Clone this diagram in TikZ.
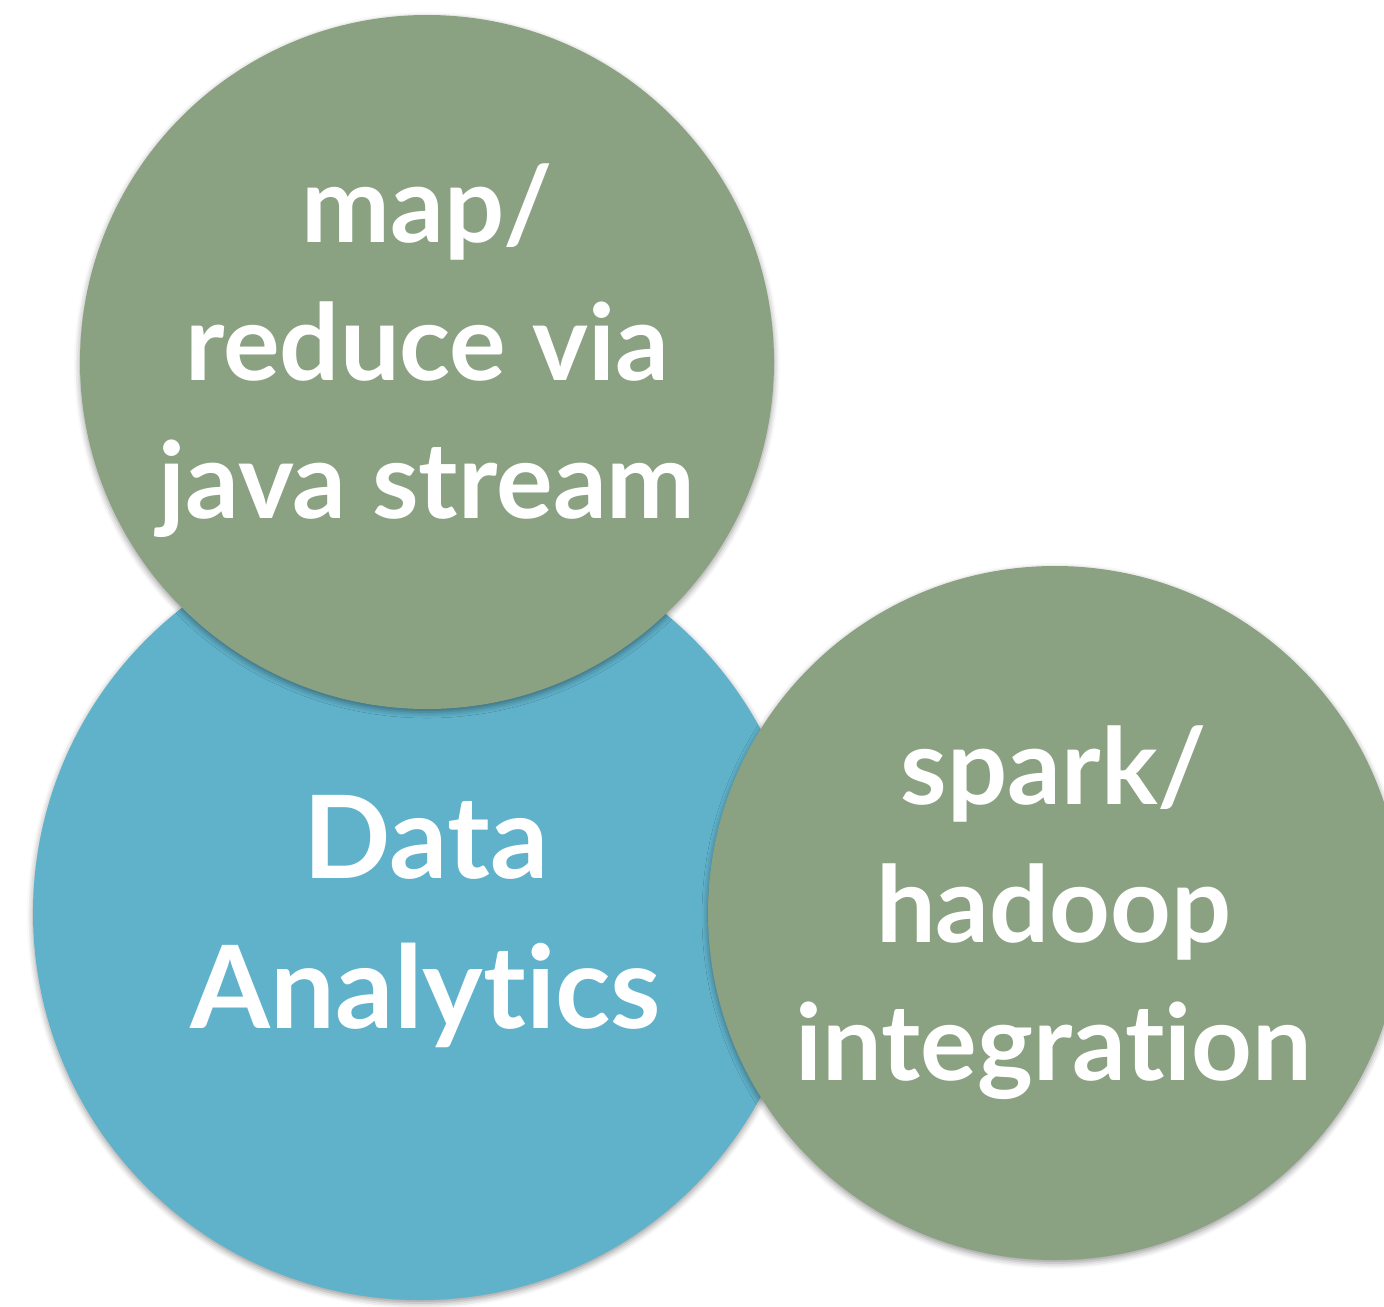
\documentclass[tikz,border=0pt]{standalone}
\usepackage{fontspec}
\setmainfont{Lato}[Ligatures={NoCommon,NoRare,NoContextual}]
\usetikzlibrary{positioning}
\usetikzlibrary{shadows.blur}

\definecolor{sage}{RGB}{138,161,130}
\definecolor{dablue}{RGB}{96,178,203}

\tikzset{
    bubble/.style={circle, inner sep=0pt,
        blur shadow={shadow xshift=0pt, shadow yshift=-1.5pt, shadow blur radius=3pt, shadow opacity=40}},
    greenbubble/.style={bubble, fill=sage, minimum size=347pt},
    bluebubble/.style={bubble, fill=dablue, minimum size=387pt},
    bubbletext/.style={text=white, align=center, font=\fontsize{53}{69}\selectfont\bfseries},
}

\begin{document}
\begin{tikzpicture}[x=0.5pt, y=0.5pt]
        \useasboundingbox (0,0) rectangle (1384,-1306);

        % Circles, back to front
        \node[bluebubble] (analytics) at (420,-913) {};
        \node[greenbubble] (mapreduce) at (427,-362) {};
        \node[greenbubble] (spark) at (1055,-913) {};

        % Labels
        \node[bubbletext, font=\fontsize{57.5}{75}\selectfont\bfseries] (analyticstext) at (426,-922) {Data\\Analytics};
        \node[bubbletext] (mapreducetext) at (427,-351) {map/\\reduce via\\java stream};
        \node[bubbletext] (sparktext) at (1054,-913) {spark/\\hadoop\\integration};
    \end{tikzpicture}
\end{document}
